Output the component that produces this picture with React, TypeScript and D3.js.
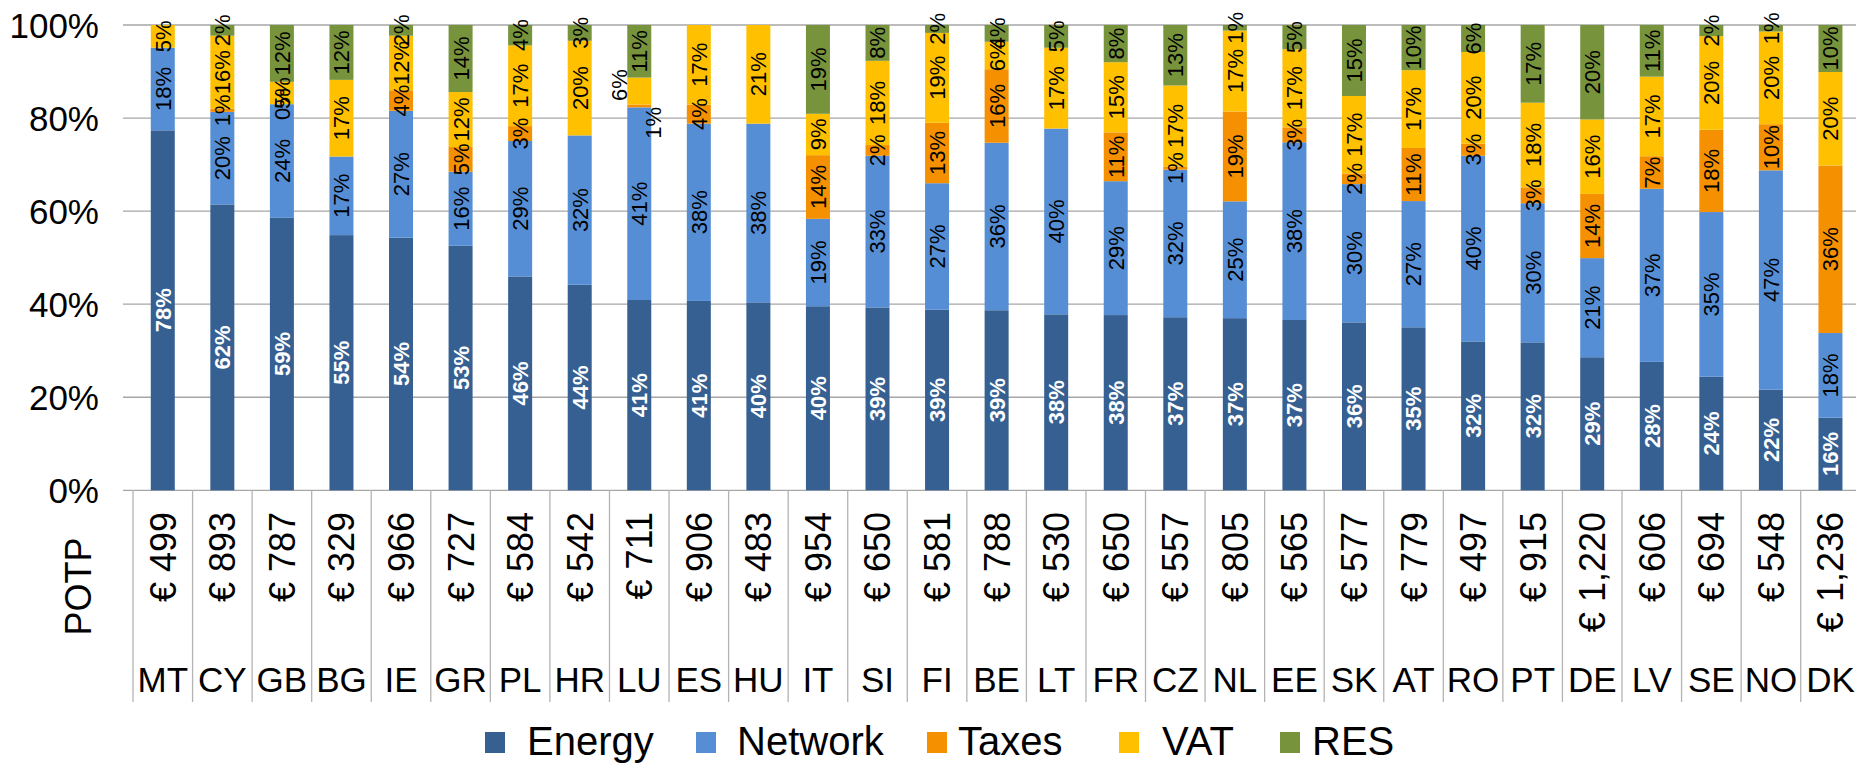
import React from "react";
import * as d3 from "d3";

const countries = ["MT", "CY", "GB", "BG", "IE", "GR", "PL", "HR", "LU", "ES", "HU", "IT", "SI", "FI", "BE", "LT", "FR", "CZ", "NL", "EE", "SK", "AT", "RO", "PT", "DE", "LV", "SE", "NO", "DK"];
const potp = ["€ 499", "€ 893", "€ 787", "€ 329", "€ 966", "€ 727", "€ 584", "€ 542", "€ 711", "€ 906", "€ 483", "€ 954", "€ 650", "€ 581", "€ 788", "€ 530", "€ 650", "€ 557", "€ 805", "€ 565", "€ 577", "€ 779", "€ 497", "€ 915", "€ 1,220", "€ 606", "€ 694", "€ 548", "€ 1,236"];

// shares in % (null = no label / no segment)
const energy = [77.6, 61.5, 58.5, 54.9, 54.2, 52.5, 46.1, 44.3, 40.9, 40.7, 40.4, 39.6, 39.3, 38.8, 38.7, 37.9, 37.7, 37.2, 37.0, 36.6, 36.2, 35.0, 32.0, 31.8, 28.6, 27.6, 24.4, 21.6, 15.6];
const network = [17.8, 19.9, 24.4, 16.9, 27.2, 15.9, 29.2, 32.2, 41.4, 38.1, 38.4, 18.8, 32.6, 27.2, 36.0, 40.0, 28.8, 31.7, 25.1, 38.2, 29.8, 27.1, 39.9, 29.9, 21.3, 37.2, 35.4, 47.1, 18.2];
const taxes = [null, 0.7, 0, null, 4.4, 5.3, 3.2, null, 0.6, 4.1, null, 13.7, 2.3, 13.0, 15.8, null, 10.5, 0.7, 19.3, 3.2, 2.3, 11.4, 2.6, 3.4, 13.8, 7.0, 17.7, 9.9, 36.0];
const vat = [4.9, 15.7, 4.8, 16.5, 11.7, 11.8, 17.4, 20.4, 5.8, 17.1, 21.2, 8.9, 18.1, 19.3, 5.9, 17.4, 15.1, 17.4, 17.4, 16.8, 16.7, 16.7, 19.7, 18.2, 16.0, 17.1, 20.1, 19.9, 20.1];
const res = [null, 2.3, 12.2, 11.8, 2.3, 14.4, 4.4, 3.4, 11.3, null, null, 19.1, 7.7, 1.7, 3.6, 4.9, 8.0, 13.0, 1.2, 5.2, 15.3, 9.7, 5.8, 16.7, 20.3, 11.1, 2.4, 1.4, 10.1];

const seriesNames = ["Energy", "Network", "Taxes", "VAT", "RES"];
const seriesValues = [energy, network, taxes, vat, res];
const colors = ["#366092", "#558ED5", "#F59100", "#FFC000", "#77933C"];

const FONT = "'Liberation Sans', Arial, sans-serif";
const W = 1856;
const H = 765;

// hand-placed labels in the original (LU)
const nudge = { "LU-Taxes": [14, 17], "LU-VAT": [-20, -6] };

export default function App() {
  const rows = countries.map((c, i) => {
    const r = { country: c };
    seriesNames.forEach((s, k) => (r[s] = seriesValues[k][i] ?? 0));
    return r;
  });

  const stack = d3.stack().keys(seriesNames).offset(d3.stackOffsetExpand);
  const layers = stack(rows);

  const left = 133;
  const cell = 59.56;
  const x = d3
    .scaleBand()
    .domain(countries)
    .range([left, left + cell * countries.length]);
  const y = d3.scaleLinear().domain([0, 1]).range([490.3, 25]);
  const barW = 24;
  const ticks = d3.range(0, 1.0001, 0.2);

  const legendItems = [
    { name: "Energy", mx: 485, tx: 527 },
    { name: "Network", mx: 696, tx: 737 },
    { name: "Taxes", mx: 927, tx: 958 },
    { name: "VAT", mx: 1119, tx: 1162 },
    { name: "RES", mx: 1280, tx: 1312 },
  ];

  return (
    <svg
      width={W}
      height={H}
      style={{ position: "absolute", left: 0, top: 0, background: "#fff" }}
      fontFamily={FONT}
    >
      {ticks.map((t) => (
        <g key={t}>
          <line x1={123} x2={W} y1={y(t)} y2={y(t)} stroke="#A6A6A6" strokeWidth={1.3} />
          <text x={99} y={y(t)} dy="0.36em" textAnchor="end" fontSize={35}>
            {d3.format(".0%")(t)}
          </text>
        </g>
      ))}

      {layers.map((layer, k) => (
        <g key={layer.key}>
          {layer.map((d, i) => (
            <rect
              key={countries[i]}
              x={x(countries[i]) + x.bandwidth() / 2 - barW / 2}
              width={barW}
              y={y(d[1])}
              height={Math.max(0, y(d[0]) - y(d[1]))}
              fill={colors[k]}
            />
          ))}
        </g>
      ))}

      {layers.map((layer, k) => (
        <g key={"lab-" + layer.key}>
          {layer.map((d, i) => {
            const v = seriesValues[k][i];
            if (v === null) return null;
            const off = nudge[countries[i] + "-" + layer.key] || [0, 0];
            const cx = x(countries[i]) + x.bandwidth() / 2 + off[0];
            const cy = (y(d[0]) + y(d[1])) / 2 + off[1];
            const white = k === 0;
            return (
              <text
                key={countries[i]}
                transform={`translate(${cx},${cy}) rotate(-90)`}
                textAnchor="middle"
                dy="0.36em"
                fontSize={22}
                fontWeight={white ? "bold" : "normal"}
                fill={white ? "#fff" : "#000"}
              >
                {Math.round(v) + "%"}
              </text>
            );
          })}
        </g>
      ))}

      {/* data table below the axis */}
      {d3.range(countries.length + 1).map((i) => (
        <line
          key={"v" + i}
          x1={left + i * cell}
          x2={left + i * cell}
          y1={490.3}
          y2={702}
          stroke="#B3B3B3"
          strokeWidth={1.3}
        />
      ))}
      {countries.map((c, i) => (
        <g key={"t" + c}>
          <text
            transform={`translate(${x(c) + x.bandwidth() / 2},${512}) rotate(-90)`}
            textAnchor="end"
            dy="0.36em"
            fontSize={36}
          >
            {potp[i]}
          </text>
          <text x={x(c) + x.bandwidth() / 2} y={692} textAnchor="middle" fontSize={35}>
            {c}
          </text>
        </g>
      ))}
      <text
        transform={`translate(${78.5},${586.5}) rotate(-90)`}
        textAnchor="middle"
        dy="0.36em"
        fontSize={36}
      >
        POTP
      </text>

      {legendItems.map((it, k) => (
        <g key={it.name}>
          <rect x={it.mx} y={732} width={20} height={21} fill={colors[k]} />
          <text x={it.tx} y={755} fontSize={40}>
            {it.name}
          </text>
        </g>
      ))}
    </svg>
  );
}
